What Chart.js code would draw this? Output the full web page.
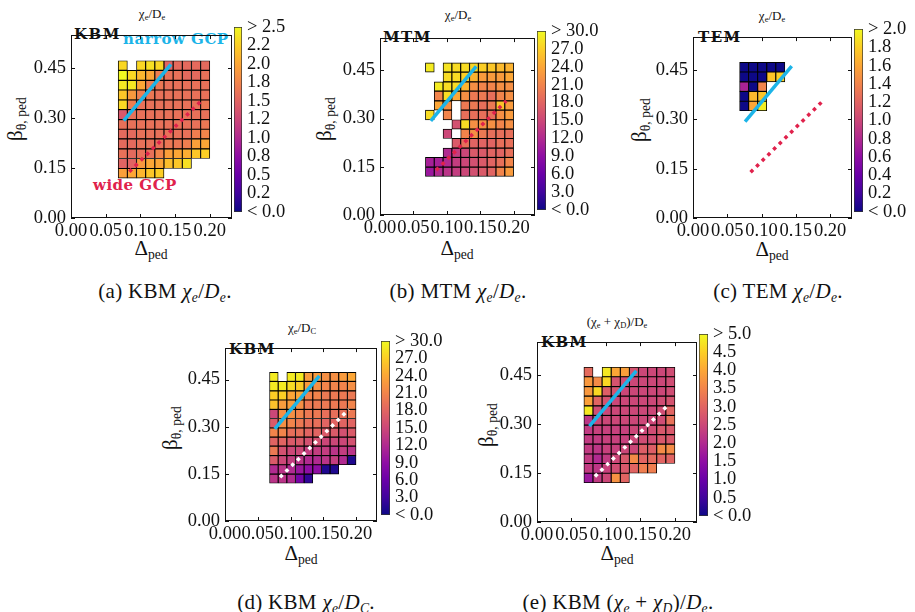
<!DOCTYPE html>
<html>
<head>
<meta charset="utf-8">
<script src="https://cdn.jsdelivr.net/npm/chart.js@4.4.1/dist/chart.umd.min.js"></script>
<style>
body { margin: 0; background: #fff; }
#fig { position: relative; width: 915px; height: 612px; overflow: hidden; font-family: "Liberation Serif", serif; color: #111; }
canvas { position: absolute; }
.c { position: absolute; white-space: nowrap; line-height: 1; transform: translate(-50%, -50%); }
.tl { position: absolute; white-space: nowrap; line-height: 1; }
.rot { transform: translate(-50%, -50%) rotate(-90deg); }
.ttl { font-size: 13px; }
.ax { font-size: 21px; }
.cap { font-size: 21px; letter-spacing: 0.3px; }
.bold { font-family: "DejaVu Serif", serif; font-weight: bold; font-size: 15px; letter-spacing: 1.5px; }
.gcp { font-family: "DejaVu Serif", serif; font-weight: bold; font-size: 15px; letter-spacing: 0.5px; }
sub { font-size: 0.65em; vertical-align: -0.3em; line-height: 0; }
</style>
</head>
<body>
<div id="fig">
  <!-- (a) -->
  <div class="c ttl" style="left:152px;top:13px">χ<sub>e</sub>/D<sub>e</sub></div>
  <div class="tl bold" style="left:74px;top:27px">KBM</div>
  <div class="tl gcp" style="left:123px;top:32px;color:#1cb4e8">narrow GCP</div>
  <div class="tl gcp" style="left:93px;top:178px;color:#e0224c">wide GCP</div>
  <div class="c ax rot" style="left:15px;top:119px">β<sub>θ, ped</sub></div>
  <div class="c ax" style="left:151px;top:248px">Δ<sub>ped</sub></div>
  <div class="c cap" style="left:165px;top:291px">(a) KBM <i>χ<sub>e</sub></i>/<i>D<sub>e</sub></i>.</div>
  <!-- (b) -->
  <div class="c ttl" style="left:458px;top:14px">χ<sub>e</sub>/D<sub>e</sub></div>
  <div class="tl bold" style="left:383px;top:30px">MTM</div>
  <div class="c ax rot" style="left:324px;top:119px">β<sub>θ, ped</sub></div>
  <div class="c ax" style="left:457px;top:248px">Δ<sub>ped</sub></div>
  <div class="c cap" style="left:458px;top:291px">(b) MTM <i>χ<sub>e</sub></i>/<i>D<sub>e</sub></i>.</div>
  <!-- (c) -->
  <div class="c ttl" style="left:772px;top:15px">χ<sub>e</sub>/D<sub>e</sub></div>
  <div class="tl bold" style="left:698px;top:30px">TEM</div>
  <div class="c ax rot" style="left:639px;top:120px">β<sub>θ, ped</sub></div>
  <div class="c ax" style="left:772px;top:249px">Δ<sub>ped</sub></div>
  <div class="c cap" style="left:778px;top:291px">(c) TEM <i>χ<sub>e</sub></i>/<i>D<sub>e</sub></i>.</div>
  <!-- (d) -->
  <div class="c ttl" style="left:302px;top:327px">χ<sub>e</sub>/D<sub>C</sub></div>
  <div class="tl bold" style="left:229px;top:342px">KBM</div>
  <div class="c ax rot" style="left:170px;top:428px">β<sub>θ, ped</sub></div>
  <div class="c ax" style="left:301px;top:553px">Δ<sub>ped</sub></div>
  <div class="c cap" style="left:306px;top:602px">(d) KBM <i>χ<sub>e</sub></i>/<i>D<sub>C</sub></i>.</div>
  <!-- (e) -->
  <div class="c ttl" style="left:617px;top:321px">(χ<sub>e</sub> + χ<sub>D</sub>)/D<sub>e</sub></div>
  <div class="tl bold" style="left:541px;top:335px">KBM</div>
  <div class="c ax rot" style="left:486px;top:425px">β<sub>θ, ped</sub></div>
  <div class="c ax" style="left:617px;top:553px">Δ<sub>ped</sub></div>
  <div class="c cap" style="left:618px;top:602px">(e) KBM (<i>χ<sub>e</sub></i> + <i>χ<sub>D</sub></i>)/<i>D<sub>e</sub></i>.</div>
</div>
<script>
// grid of the scan: pedestal width (cell centres) and beta (row edges, top row first)
var deltaPed = [0.0746, 0.0878, 0.1010, 0.1142, 0.1274, 0.1406, 0.1538, 0.1670, 0.1802, 0.1934];
var betaEdges = [0.473, 0.444, 0.414, 0.385, 0.355, 0.326, 0.296, 0.267, 0.238, 0.208, 0.179, 0.149, 0.120];

var xTicks = [0, 0.05, 0.10, 0.15, 0.20];
var xTickLabels = ['0.00', '0.05', '0.10', '0.15', '0.20'];
var yTicks = [0, 0.15, 0.30, 0.45];
var yTickLabels = ['0.00', '0.15', '0.30', '0.45'];

// GCP lines
var narrowGcpDelta = [0.076, 0.144];
var narrowGcpBeta = [0.293, 0.462];
var wideGcpDelta = [0.084, 0.189];
var wideGcpBeta = [0.139, 0.355];

// (a) KBM chi_e/D_e, rows from top (beta high) to bottom
var kbmChiE = [
  [2.3, null, 2.3, 2.35, 2.3, 1.5, 1.55, 1.55, 1.55, 1.55],
  [2.5, 2.3, 2.1, 2.0, 1.7, 1.6, 1.6, 1.55, 1.55, 1.6],
  [2.4, 2.4, 2.0, 1.7, 1.65, 1.6, 1.6, 1.6, 1.6, 1.6],
  [2.2, 1.9, 1.7, 1.65, 1.6, 1.6, 1.6, 1.6, 1.6, 1.6],
  [2.3, 1.7, 1.6, 1.6, 1.6, 1.6, 1.6, 1.6, 1.6, 1.65],
  [1.4, 1.6, 1.6, 1.6, 1.6, 1.6, 1.6, 1.6, 1.6, 1.6],
  [1.6, 1.6, 1.6, 1.6, 1.6, 1.6, 1.6, 1.6, 1.6, 1.65],
  [1.55, 1.55, 1.6, 1.6, 1.6, 1.6, 1.6, 1.6, 1.7, 1.75],
  [1.55, 1.55, 1.6, 1.6, 1.6, 1.65, 1.65, 1.7, 1.95, 2.0],
  [1.6, 1.55, 1.6, 1.6, 1.75, 1.95, 2.0, 2.05, 2.2, 2.25],
  [1.5, 1.5, 1.9, 2.0, 2.0, 2.15, 2.2, 2.35, null, null],
  [1.95, 2.0, 2.1, 2.2, 2.25, null, null, null, null, null]
];
// (b) MTM chi_e/D_e
var mtmChiE = [
  [29, null, 28.5, 28, 28, 27.5, 27, 26.5, 25.5, 25],
  [null, null, 28, 28, 27, 25, 23, 23, 23, 24],
  [null, 29, 28, 28, 25, 22, 21, 21, 22, 22],
  [null, 21, 28, 24, 22, 20, 20, 19, 21, 22],
  [null, 24, 22, null, 20, 20, 19, 20, 26, 23],
  [28, null, 21, null, 19, 19, 19, 19, 22, 23],
  [null, null, null, 16, 28, 22, 22, 22, 21, 22],
  [null, null, 15, null, 21, 22, 20, 19, 19, 19],
  [null, null, null, 17, 19, 18, 18, 18, 19, 19],
  [null, null, 12, 14, 15, 17, 17, 18, 18, 19],
  [11, 11, 12, 14, 15, 16, 17, 18, 19, 21],
  [10, 12, 13, 14, 15, 16, 17, 18, 21, 23]
];
// (c) TEM chi_e/D_e
var temChiE = [
  [0, 0, 0, 0, 0],
  [0, 0, 0, 1.75, 1.8],
  [0.75, 0, 1.4, null, null],
  [0, 1.7, 1.75, null, null],
  [0, 1.6, 1.95, null, null]
];
// (d) KBM chi_e/D_C
var kbmChiEC = [
  [29, null, 29, 29, 23, 23, 22, 22, 23, 24],
  [29, 29, 28, 27, 23, 22, 21, 21, 21, 22],
  [27, 27, 24, 24, 21, 21, 20, 20, 20, 20],
  [26, 23, 23, 22, 20, 20, 20, 20, 20, 21],
  [15, 22, 22, 21, 20, 20, 19, 19, 19, 20],
  [17, 22, 21, 20, 19, 19, 18, 18, 18, 18],
  [21, 21, 19, 19, 18, 18, 17, 17, 16, 17],
  [18, 18, 17, 17, 16, 16, 15, 15, 15, 16],
  [20, 16, 15, 15, 14, 14, 14, 13, 14, 13],
  [17, 15, 14, 13, 12, 12, 13, 14, 12, 1],
  [12, 13, 12, 10, 9, 9, 1, 1, null, null],
  [13, 13, 12, 7, 2, null, null, null, null, null]
];
// (e) KBM (chi_e + chi_D)/D_e
var kbmChiSum = [
  [3.1, null, 4.8, 4.0, 3.9, 2.7, 2.5, 2.5, 2.5, 2.6],
  [3.8, 3.6, 4.6, 2.7, 2.6, 2.5, 2.5, 2.5, 2.5, 2.6],
  [3.8, 4.6, 2.9, 2.7, 2.5, 2.5, 2.5, 2.5, 2.5, 2.6],
  [3.9, 3.0, 2.7, 2.5, 2.5, 2.5, 2.5, 2.5, 2.6, 2.7],
  [4.8, 2.6, 2.5, 2.5, 2.5, 2.5, 2.5, 2.5, 2.6, 3.0],
  [2.2, 2.5, 2.5, 2.5, 2.5, 2.5, 2.5, 2.5, 2.6, 3.2],
  [2.3, 2.4, 2.4, 2.4, 2.4, 2.5, 2.5, 2.6, 2.8, 2.8],
  [2.3, 2.3, 2.4, 2.4, 2.4, 2.5, 2.6, 2.6, 2.8, 2.8],
  [2.3, 2.2, 2.4, 2.4, 2.5, 2.5, 2.9, 2.9, 3.6, 3.6],
  [2.3, 2.0, 2.3, 2.5, 2.8, 3.6, 3.0, 3.1, 3.0, 3.0],
  [2.3, 2.2, 2.4, 2.6, 2.8, 3.0, 3.4, 3.4, null, null],
  [1.7, 2.3, 2.5, 3.7, 3.0, null, null, null, null, null]
];

// colourbar ranges and tick labels (bottom to top)
var cbMaxA = 2.5, cbLabelsA = ['< 0.0', '0.2', '0.5', '0.8', '1.0', '1.2', '1.5', '1.8', '2.0', '2.2', '> 2.5'];
var cbMaxB = 30, cbLabelsB = ['< 0.0', '3.0', '6.0', '9.0', '12.0', '15.0', '18.0', '21.0', '24.0', '27.0', '> 30.0'];
var cbMaxC = 2.0, cbLabelsC = ['< 0.0', '0.2', '0.4', '0.6', '0.8', '1.0', '1.2', '1.4', '1.6', '1.8', '> 2.0'];
var cbMaxD = 30, cbLabelsD = cbLabelsB;
var cbMaxE = 5.0, cbLabelsE = ['< 0.0', '0.5', '1.0', '1.5', '2.0', '2.5', '3.0', '3.5', '4.0', '4.5', '> 5.0'];

var plasma = ['#0d0887', '#41049d', '#6a00a8', '#8f0da4', '#b12a90', '#cc4778', '#e16462', '#f2844b', '#fca636', '#fcce25', '#f0f921'];

function hexRgb(h) {
  return [parseInt(h.slice(1, 3), 16), parseInt(h.slice(3, 5), 16), parseInt(h.slice(5, 7), 16)];
}
function plasmaColor(t) {
  t = Math.max(0, Math.min(1, t));
  var f = t * 10, i = Math.min(9, Math.floor(f)), u = f - i;
  var a = hexRgb(plasma[i]), b = hexRgb(plasma[i + 1]);
  return 'rgb(' + [0, 1, 2].map(function (k) { return Math.round(a[k] + (b[k] - a[k]) * u); }).join(',') + ')';
}

function cells(grid) {
  var out = [];
  grid.forEach(function (row, j) {
    row.forEach(function (v, i) {
      if (v === null) return;
      out.push({x: deltaPed[i], y: [betaEdges[j + 1], betaEdges[j]], v: v});
    });
  });
  return out;
}

var tickFont = {family: 'Liberation Serif', size: 18.5};

// frame and inward ticks like matplotlib
var frameTicks = {
  id: 'frameTicks',
  afterDraw: function (chart) {
    var a = chart.chartArea, c = chart.ctx, sx = chart.scales.x, sy = chart.scales.y;
    c.save();
    c.strokeStyle = '#111';
    c.lineWidth = 1;
    c.beginPath();
    xTicks.forEach(function (v) {
      var p = Math.round(sx.getPixelForValue(v)) + 0.5;
      c.moveTo(p, a.bottom); c.lineTo(p, a.bottom - 4);
      c.moveTo(p, a.top); c.lineTo(p, a.top + 4);
    });
    yTicks.forEach(function (v) {
      var p = Math.round(sy.getPixelForValue(v)) + 0.5;
      c.moveTo(a.left, p); c.lineTo(a.left + 4, p);
      c.moveTo(a.right, p); c.lineTo(a.right - 4, p);
    });
    c.stroke();
    c.strokeRect(Math.round(a.left) + 0.5, Math.round(a.top) + 0.5, Math.round(a.right - a.left) - 1, Math.round(a.bottom - a.top) - 1);
    c.restore();
  }
};

function addCanvas(left, top, w, h) {
  var cv = document.createElement('canvas');
  cv.width = w; cv.height = h;
  cv.style.left = left + 'px'; cv.style.top = top + 'px';
  document.getElementById('fig').appendChild(cv);
  return cv.getContext('2d');
}

// frame = [left, top, right, bottom] of the plot box on the page
function heatmap(frame, grid, vmax, wideColor) {
  var w = frame[2] - frame[0], h = frame[3] - frame[1];
  var ctx = addCanvas(frame[0] - 45, frame[1] - 2, w + 47, h + 24);
  return new Chart(ctx, {
    type: 'bar',
    data: {
      datasets: [
        {
          type: 'line',
          data: narrowGcpDelta.map(function (d, i) { return {x: d, y: narrowGcpBeta[i]}; }),
          borderColor: '#1cb4e8', borderWidth: 3.5, pointRadius: 0, order: 0
        },
        {
          type: 'line',
          data: wideGcpDelta.map(function (d, i) { return {x: d, y: wideGcpBeta[i]}; }),
          borderColor: wideColor, borderWidth: 3.5, borderDash: [3.5, 4.5], pointRadius: 0, order: 0
        },
        {
          data: cells(grid),
          backgroundColor: function (c) { return c.raw ? plasmaColor(c.raw.v / vmax) : '#000'; },
          borderColor: '#000', borderWidth: 0.9, borderSkipped: false,
          barPercentage: 1, categoryPercentage: 1, order: 1
        }
      ]
    },
    options: {
      responsive: false, animation: false, devicePixelRatio: 1,
      layout: {padding: {left: 0, top: 2, right: 2, bottom: 0}},
      plugins: {legend: {display: false}, tooltip: {enabled: false}},
      scales: {
        x: {
          type: 'linear', min: 0, max: 0.232, offset: false,
          grid: {display: false, drawTicks: false}, border: {display: false},
          afterBuildTicks: function (s) { s.ticks = xTicks.map(function (v) { return {value: v}; }); },
          afterFit: function (s) { s.height = 22; },
          ticks: {autoSkip: false, maxRotation: 0, minRotation: 0, padding: 2, color: '#111', font: tickFont,
            callback: function (v, i) { return xTickLabels[i]; }}
        },
        y: {
          type: 'linear', min: 0, max: 0.55,
          grid: {display: false, drawTicks: false}, border: {display: false},
          afterBuildTicks: function (s) { s.ticks = yTicks.map(function (v) { return {value: v}; }); },
          afterFit: function (s) { s.width = 45; },
          ticks: {autoSkip: false, padding: 5, color: '#111', font: tickFont,
            callback: function (v, i) { return yTickLabels[i]; }}
        }
      }
    },
    plugins: [frameTicks]
  });
}

// box = [left, top, right, bottom] of the colour strip
function colorbar(box, vmax, labels) {
  var w = box[2] - box[0], h = box[3] - box[1];
  var ctx = addCanvas(box[0] - 1, box[1] - 10, w + 1 + 64, h + 20);
  var tickVals = labels.map(function (l, i) { return vmax * i / (labels.length - 1); });
  return new Chart(ctx, {
    type: 'bar',
    data: {
      labels: ['cb'],
      datasets: [{
        data: [[0, vmax]],
        backgroundColor: function (c) {
          var a = c.chart.chartArea;
          if (!a) return '#888';
          var g = c.chart.ctx.createLinearGradient(0, a.bottom, 0, a.top);
          plasma.forEach(function (col, i) { g.addColorStop(i / (plasma.length - 1), col); });
          return g;
        },
        borderColor: '#333', borderWidth: 1, borderSkipped: false,
        barPercentage: 1, categoryPercentage: 1
      }]
    },
    options: {
      responsive: false, animation: false, devicePixelRatio: 1,
      layout: {padding: {left: 1, top: 10, right: 0, bottom: 10}},
      plugins: {legend: {display: false}, tooltip: {enabled: false}},
      scales: {
        x: {display: false},
        y: {
          position: 'right', min: 0, max: vmax,
          grid: {display: false, drawTicks: false}, border: {display: false},
          afterBuildTicks: function (s) { s.ticks = tickVals.map(function (v) { return {value: v}; }); },
          afterFit: function (s) { s.width = 64; },
          ticks: {autoSkip: false, padding: 5, color: '#111', font: tickFont,
            callback: function (v, i) { return labels[i]; }}
        }
      }
    }
  });
}

heatmap([71, 21, 232, 218], kbmChiE, cbMaxA, '#e0224c');
colorbar([234, 21, 242, 218], cbMaxA, cbLabelsA);

heatmap([380, 24, 535, 215], mtmChiE, cbMaxB, '#e0224c');
colorbar([537, 25, 546, 216], cbMaxB, cbLabelsB);

heatmap([693, 23, 852, 218], temChiE, cbMaxC, '#e0224c');
colorbar([854, 23, 863, 218], cbMaxC, cbLabelsC);

heatmap([225, 334, 377, 521], kbmChiEC, cbMaxD, '#ffffff');
colorbar([381, 335, 390, 521], cbMaxD, cbLabelsD);

heatmap([537, 328, 697, 522], kbmChiSum, cbMaxE, '#ffffff');
colorbar([699, 328, 708, 522], cbMaxE, cbLabelsE);
</script>
</body>
</html>
